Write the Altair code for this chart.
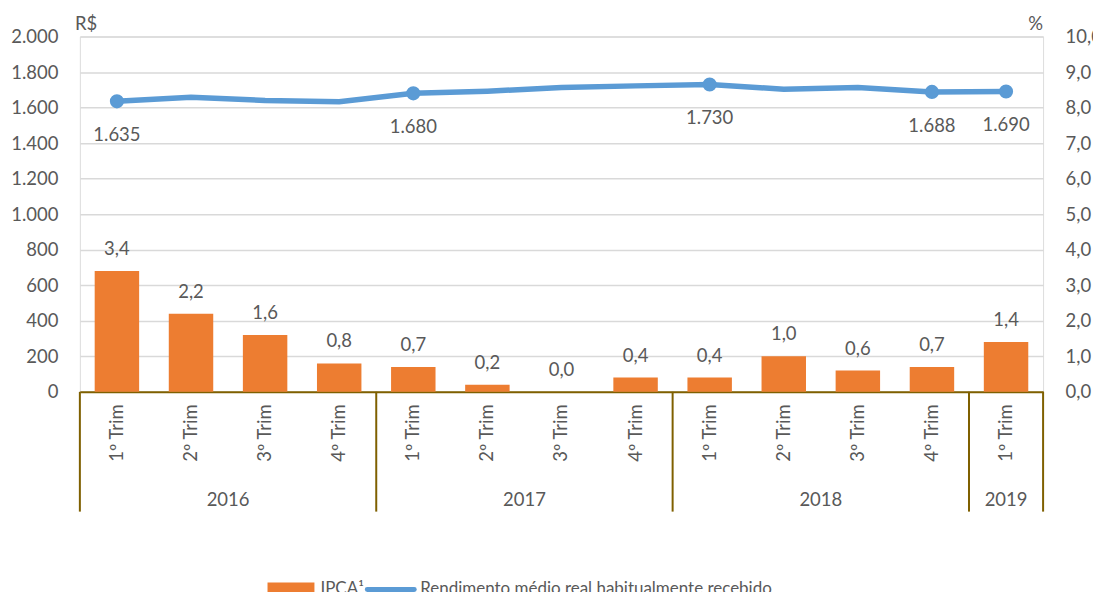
import altair as alt
import pandas as pd

years = ["2016"] * 4 + ["2017"] * 4 + ["2018"] * 4 + ["2019"]
quarters = ["1º Trim", "2º Trim", "3º Trim", "4º Trim"] * 3 + ["1º Trim"]
ipca = [3.4, 2.2, 1.6, 0.8, 0.7, 0.2, 0.0, 0.4, 0.4, 1.0, 0.6, 0.7, 1.4]
rendimento = [1635, 1658, 1640, 1633, 1680, 1692, 1713, 1722, 1730, 1703, 1713, 1688, 1690]
labeled = [True, False, False, False, True, False, False, False, True, False, False, True, True]

year_names = ["2016", "2017", "2018", "2019"]
year_anchor = ["2016|2º Trim", "2017|2º Trim", "2018|2º Trim", "2019|1º Trim"]
year_band = [1, 1, 1, 0.5]
sep_start = ["2016|1º Trim", "2017|1º Trim", "2018|1º Trim", "2019|1º Trim"]
sep_end = ["2019|1º Trim"]
legend_names = ["IPCA¹", "Rendimento médio real habitualmente recebido"]
unit_left = ["R$"]
unit_right = ["%"]

cats = [f"{y}|{q}" for y, q in zip(years, quarters)]
df = pd.DataFrame({"cat": cats, "ipca": ipca, "rend": rendimento, "lab": labeled})

W, H = 965, 356
FONT = "Lato"
TXT = "#595959"
GOLD = "#7F6000"
ORANGE = "#ED7D31"
BLUE = "#5B9BD5"
FS = 18.5
LFS = 17

xscale = alt.Scale(domain=cats, paddingInner=0, paddingOuter=0)
xaxis = alt.Axis(
    labelAngle=270, labelPadding=12, labelExpr="split(datum.value,'|')[1]",
    domainColor=GOLD, domainWidth=2, ticks=False, grid=False, title=None,
    labelFontSize=FS, labelColor=TXT, labelFont=FONT,
)


def X(field="cat", band=0.5):
    return alt.X(f"{field}:N", scale=xscale, axis=xaxis, bandPosition=band)


ybar = alt.Y(
    "ipca:Q", scale=alt.Scale(domain=[0, 10]),
    axis=alt.Axis(orient="right", values=list(range(11)),
                  labelExpr="replace(format(datum.value,'.1f'),'.',',')",
                  grid=False, domain=False, ticks=False, title=None, labelPadding=22,
                  labelFontSize=FS, labelColor=TXT, labelFont=FONT),
)
yline = alt.Y(
    "rend:Q", scale=alt.Scale(domain=[0, 2000]),
    axis=alt.Axis(orient="left", values=list(range(0, 2001, 200)),
                  labelExpr="replace(format(datum.value,','),',','.')",
                  grid=True, gridColor="#D9D9D9", gridWidth=1.5,
                  domain=False, ticks=False, title=None, labelPadding=22,
                  labelFontSize=FS, labelColor=TXT, labelFont=FONT),
)

base = alt.Chart(df)

bars = base.mark_bar(color=ORANGE, width=alt.RelativeBandSize(0.6)).encode(x=X(), y=ybar)
bar_text = base.transform_calculate(
    t="replace(format(datum.ipca,'.1f'),'.',',')"
).mark_text(baseline="bottom", dy=-12, fontSize=FS, font=FONT, color=TXT).encode(
    x=X(), y=ybar, text="t:N"
)
bar_layer = alt.layer(bars, bar_text)

line = base.mark_line(color=BLUE, strokeWidth=5.5).encode(x=X(), y=yline)
pts = base.transform_filter("datum.lab").mark_point(
    filled=True, color=BLUE, size=200, opacity=1
).encode(x=X(), y=yline)
line_text = base.transform_filter("datum.lab").transform_calculate(
    t="replace(format(datum.rend,','),',','.')"
).mark_text(baseline="middle", dy=34, fontSize=FS, font=FONT, color=TXT).encode(
    x=X(), y=yline, text="t:N"
)
line_layer = alt.layer(line, pts, line_text)

sep_df = pd.DataFrame({"cat": sep_start})
sep_end_df = pd.DataFrame({"cat": sep_end})
seps = alt.Chart(sep_df).mark_rule(color=GOLD, strokeWidth=2).encode(
    x=X(band=0), y=alt.value(H), y2=alt.value(H + 120)
)
seps_end = alt.Chart(sep_end_df).mark_rule(color=GOLD, strokeWidth=2).encode(
    x=X(band=1), y=alt.value(H), y2=alt.value(H + 120)
)

ydf = pd.DataFrame({"cat": year_anchor, "year": year_names, "band": year_band})
year_a = alt.Chart(ydf).transform_filter("datum.band == 1").mark_text(
    baseline="middle", fontSize=FS, font=FONT, color=TXT
).encode(x=X(band=1), y=alt.value(H + 108), text="year:N")
year_b = alt.Chart(ydf).transform_filter("datum.band != 1").mark_text(
    baseline="middle", fontSize=FS, font=FONT, color=TXT
).encode(x=X(band=0.5), y=alt.value(H + 108), text="year:N")

u_left = alt.Chart(pd.DataFrame({"t": unit_left})).mark_text(
    align="left", baseline="middle", fontSize=FS, font=FONT, color=TXT
).encode(x=alt.value(-5), y=alt.value(-12), text="t:N")
u_right = alt.Chart(pd.DataFrame({"t": unit_right})).mark_text(
    align="right", baseline="middle", fontSize=FS, font=FONT, color=TXT
).encode(x=alt.value(W), y=alt.value(-12), text="t:N")

leg_df = pd.DataFrame({"t": legend_names})
leg_rect = alt.Chart(leg_df.iloc[[0]]).mark_rect(color=ORANGE).encode(
    x=alt.value(188), x2=alt.value(235), y=alt.value(H + 191), y2=alt.value(H + 206)
)
leg_t1 = alt.Chart(leg_df.iloc[[0]]).mark_text(
    align="left", baseline="middle", fontSize=LFS, font=FONT, color=TXT
).encode(x=alt.value(241), y=alt.value(H + 198), text="t:N")
leg_line = alt.Chart(leg_df.iloc[[1]]).mark_rule(color=BLUE, strokeWidth=5, strokeCap="round").encode(
    x=alt.value(288), x2=alt.value(335), y=alt.value(H + 198)
)
leg_t2 = alt.Chart(leg_df.iloc[[1]]).mark_text(
    align="left", baseline="middle", fontSize=LFS, font=FONT, color=TXT
).encode(x=alt.value(341), y=alt.value(H + 198), text="t:N")

chart = alt.layer(
    bar_layer, line_layer, seps, seps_end, year_a, year_b, u_left, u_right,
    leg_rect, leg_t1, leg_line, leg_t2,
).resolve_scale(y="independent").properties(
    width=W, height=H,
    autosize=alt.AutoSizeParams(type="none"),
    padding={"left": 72, "top": 28, "right": 50, "bottom": 200},
).configure_view(stroke=None).configure(font=FONT)

chart.save("out.html", embed_options={"renderer": "svg", "actions": False})
